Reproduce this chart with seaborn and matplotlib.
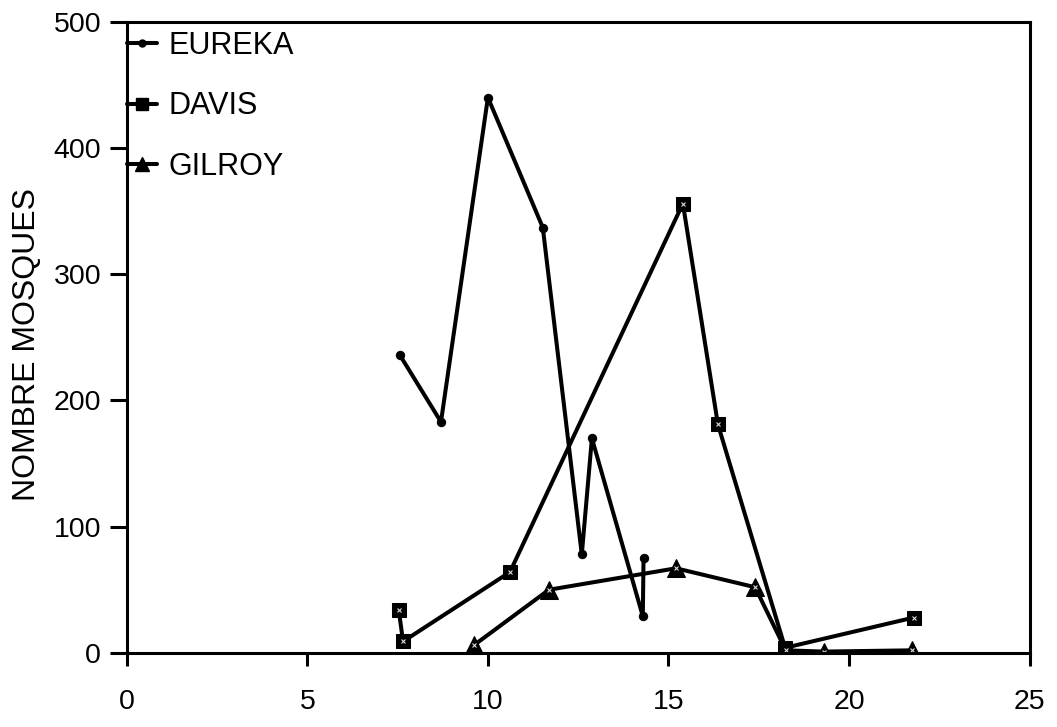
import matplotlib
matplotlib.use("Agg")
import matplotlib.pyplot as plt
import seaborn as sns
import pandas as pd

sns.set_theme(style="ticks")
plt.rcParams['font.family'] = ['Liberation Sans', 'DejaVu Sans']

eureka_x = [7.56, 8.70, 10.0, 11.52, 12.60, 12.88, 14.29, 14.31]
eureka_y = [236, 183, 440, 337, 78, 170, 29, 75]

davis_x = [7.53, 7.65, 10.61, 15.40, 16.37, 18.23, 21.80]
davis_y = [34, 9, 64, 356, 181, 4, 28]

gilroy_x = [9.61, 11.69, 15.21, 17.40, 18.25, 19.30, 21.75]
gilroy_y = [6, 50, 67, 52, 2, 1, 2]

series_names = ["EUREKA", "DAVIS", "GILROY"]
x_ticks = [0, 5, 10, 15, 20, 25]
y_ticks = [0, 100, 200, 300, 400, 500]

fig = plt.figure(figsize=(10.57, 7.27), dpi=100)
ax = fig.add_axes([0.120, 0.102, 0.854, 0.868])

styles = {
    "EUREKA": dict(marker="o", markersize=6, leg=5),
    "DAVIS": dict(marker="s", markersize=10.5, leg=8),
    "GILROY": dict(marker="^", markersize=13, leg=10),
}
data = {
    "EUREKA": (eureka_x, eureka_y),
    "DAVIS": (davis_x, davis_y),
    "GILROY": (gilroy_x, gilroy_y),
}

LW = 2.9
for name in series_names:
    xs, ys = data[name]
    df = pd.DataFrame({"x": xs, "y": ys})
    st = styles[name]
    sns.lineplot(data=df, x="x", y="y", sort=False, estimator=None, ax=ax,
                 color="black", linewidth=LW, marker=st["marker"],
                 markersize=st["markersize"], markeredgecolor="black",
                 markerfacecolor="black", label=name, legend=False)
    if name != "EUREKA":
        ax.plot(xs, ys, linestyle="none", marker="x", markersize=3.5,
                markeredgewidth=0.8, color="#dddddd")

handles = [
    plt.Line2D([], [], color="black", linewidth=LW, marker=styles[n]["marker"],
               markersize=styles[n]["leg"], markerfacecolor="black",
               markeredgecolor="black")
    for n in series_names
]
ax.legend(handles, series_names, loc="upper left", frameon=False,
          fontsize=22, handlelength=1.0, handletextpad=0.35, labelspacing=1.0,
          borderaxespad=0.0, borderpad=0.0, bbox_to_anchor=(0.0, 0.986),
          labelcolor="black")

ax.set_xlim(0, 25)
ax.set_ylim(0, 500)
ax.set_xticks(x_ticks)
ax.set_yticks(y_ticks)
ax.tick_params(axis="both", direction="out", width=2.2,
               labelsize=20.5, colors="black")
ax.tick_params(axis="x", length=9.4, pad=16.5)
ax.tick_params(axis="y", length=12, pad=6.5)
for sp in ax.spines.values():
    sp.set_visible(True)
    sp.set_linewidth(2.2)
    sp.set_color("black")
ax.set_xlabel("")
ax.set_ylabel("NOMBRE MOSQUES", fontsize=23, color="black")
ax.yaxis.set_label_coords(-0.094, 0.488)

fig.savefig("out.png", dpi=100)
